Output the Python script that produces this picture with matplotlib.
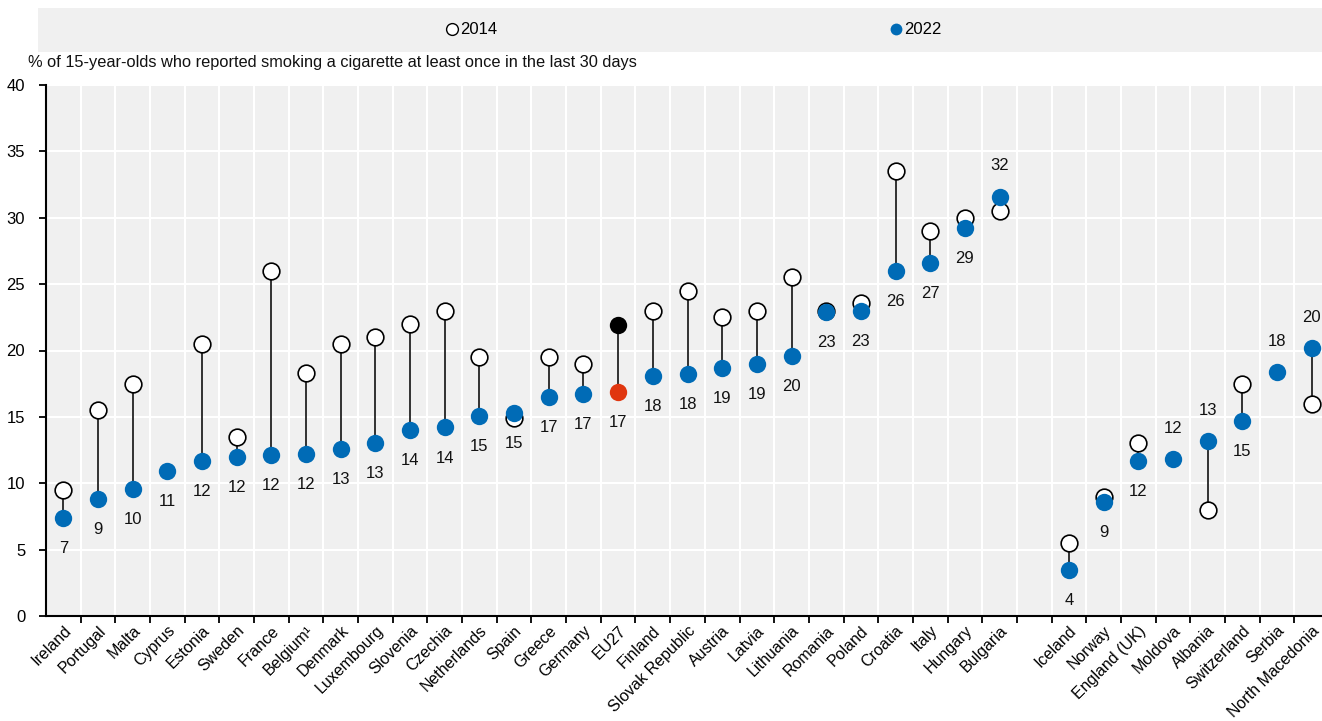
import numpy as np
import matplotlib
matplotlib.use("Agg")
import matplotlib.pyplot as plt
from matplotlib import font_manager
from matplotlib.lines import Line2D

names = {f.name for f in font_manager.fontManager.ttflist}
fam = [f for f in ["Liberation Sans Narrow", "Liberation Sans", "DejaVu Sans"] if f in names]
plt.rcParams["font.family"] = fam

# ---- data ----
countries_eu = ["Ireland", "Portugal", "Malta", "Cyprus", "Estonia", "Sweden", "France",
                "Belgium\u00b9", "Denmark", "Luxembourg", "Slovenia", "Czechia", "Netherlands",
                "Spain", "Greece", "Germany", "EU27", "Finland", "Slovak Republic", "Austria",
                "Latvia", "Lithuania", "Romania", "Poland", "Croatia", "Italy", "Hungary",
                "Bulgaria"]
countries_other = ["Iceland", "Norway", "England (UK)", "Moldova", "Albania",
                   "Switzerland", "Serbia", "North Macedonia"]

v2014_eu = [9.5, 15.5, 17.5, np.nan, 20.5, 13.5, 26.0, 18.3, 20.5, 21.0, 22.0, 23.0, 19.5,
            14.9, 19.5, 19.0, 21.9, 23.0, 24.5, 22.5, 23.0, 25.5, 23.0, 23.6, 33.5, 29.0,
            30.0, 30.5]
v2022_eu = [7.4, 8.8, 9.6, 10.9, 11.7, 12.0, 12.1, 12.2, 12.6, 13.0, 14.0, 14.2, 15.1,
            15.3, 16.5, 16.7, 16.9, 18.1, 18.2, 18.7, 19.0, 19.6, 22.9, 23.0, 26.0, 26.6,
            29.2, 31.6]
v2014_other = [5.5, 9.0, 13.0, np.nan, 8.0, 17.5, np.nan, 16.0]
v2022_other = [3.5, 8.6, 11.7, 11.8, 13.2, 14.7, 18.4, 20.2]

labels_eu = [7, 9, 10, 11, 12, 12, 12, 12, 13, 13, 14, 14, 15, 15, 17, 17, 17, 18, 18, 19,
             19, 20, 23, 23, 26, 27, 29, 32]
labels_other = [4, 9, 12, 12, 13, 15, 18, 20]
label_above = {"Bulgaria", "Moldova", "Albania", "Serbia", "North Macedonia"}

highlight = "EU27"

# ---- layout ----
countries = countries_eu + countries_other
v14 = np.array(v2014_eu + v2014_other, dtype=float)
v22 = np.array(v2022_eu + v2022_other, dtype=float)
lbls = labels_eu + labels_other
xpos = np.array(list(range(len(countries_eu))) +
                list(range(len(countries_eu) + 1, len(countries_eu) + 1 + len(countries_other))))
nslots = len(countries_eu) + 1 + len(countries_other)

W, H = 1322, 721
fig = plt.figure(figsize=(W / 100, H / 100), dpi=100)
ax = fig.add_axes([46 / W, 1 - 616 / H, (1329 - 46) / W, (616 - 85) / H])

BLUE = "#006BB6"
GREY_BG = "#F0F0F0"
FS = 12
ax.set_facecolor(GREY_BG)

# connectors
for x, a, b in zip(xpos, v14, v22):
    if not np.isnan(a):
        ax.plot([x, x], [a, b], color="#222222", lw=1.3, zorder=2)

hl = np.array([c == highlight for c in countries])
ms = 12.5
h14 = ax.plot(xpos[~hl], v14[~hl], "o", ms=ms - 0.5, mfc="white", mec="black", mew=1.2,
              ls="none", zorder=3, label="2014")[0]
h22 = ax.plot(xpos[~hl], v22[~hl], "o", ms=ms, mfc=BLUE, mec=BLUE, mew=0,
              ls="none", zorder=4, label="2022")[0]
ax.plot(xpos[hl], v14[hl], "o", ms=ms, mfc="black", mec="black", mew=0, ls="none", zorder=3)
ax.plot(xpos[hl], v22[hl], "o", ms=ms, mfc="#E0360F", mec="#E0360F", mew=0, ls="none", zorder=4)

for x, c, v, l in zip(xpos, countries, v22, lbls):
    dy = 22 if c in label_above else -22
    ax.annotate(str(l), (x, v), xytext=(0, dy), textcoords="offset points",
                ha="center", va="center", fontsize=FS, color="#111111", zorder=5)

ax.set_xlim(-0.5, nslots - 0.5)
ax.set_ylim(0, 40)
ax.set_yticks(np.arange(0, 41, 5))
ax.set_xticks(xpos)
ax.set_xticklabels(countries, rotation=45, ha="right", rotation_mode="anchor", fontsize=11.5)
ax.set_xticks(np.arange(0.5, nslots - 1, 1), minor=True)
ax.tick_params(axis="x", which="major", length=0, pad=5)
ax.tick_params(axis="x", which="minor", length=5, width=1.3, direction="out", color="black")
ax.tick_params(axis="y", length=5, width=1.3, direction="out", labelsize=FS, pad=10)

ax.grid(True, axis="y", color="white", lw=1.5)
ax.grid(True, axis="x", which="minor", color="white", lw=1.5)
ax.set_axisbelow(True)
for s in ["top", "right"]:
    ax.spines[s].set_visible(False)
for s in ["left", "bottom"]:
    ax.spines[s].set_linewidth(1.5)
    ax.spines[s].set_color("black")

fig.text(28 / W, 1 - 63 / H,
         "% of 15-year-olds who reported smoking a cigarette at least once in the last 30 days",
         ha="left", va="center", fontsize=11.8, color="#111111")

# legend box
lax = fig.add_axes([38 / W, 1 - 52 / H, (1322 - 38) / W, 44 / H])
lax.set_facecolor(GREY_BG)
lax.set_xticks([]); lax.set_yticks([])
for s in lax.spines.values():
    s.set_visible(False)
lh14 = Line2D([], [], marker="o", ms=8.5, mfc="white", mec="black", mew=1.0, ls="none")
lh22 = Line2D([], [], marker="o", ms=8.5, mfc=BLUE, mec=BLUE, mew=0, ls="none")
lax.legend([lh14, lh22], [h14.get_label(), h22.get_label()], loc="center",
           bbox_to_anchor=(0.5 + 14 / 1284, 0.5), ncol=2,
           frameon=False, fontsize=FS, handlelength=0.6, handletextpad=0.2,
           columnspacing=23.6)

fig.savefig("out.png", dpi=100)
